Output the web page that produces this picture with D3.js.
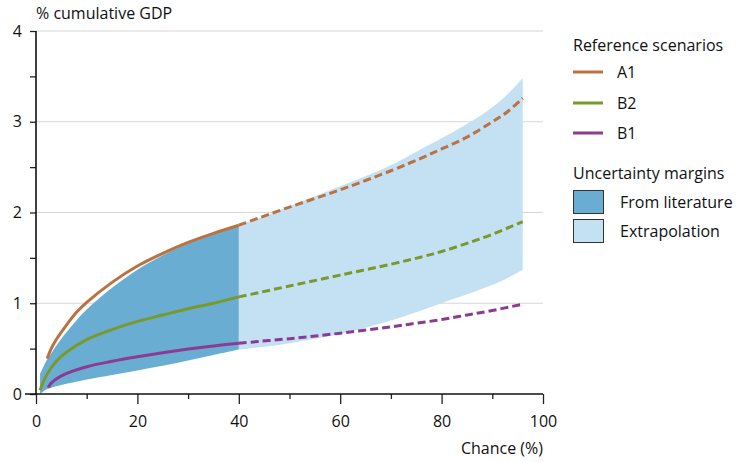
<!DOCTYPE html>
<html>
<head>
<meta charset="utf-8">
<script src="https://cdn.jsdelivr.net/npm/d3@7"></script>
<style>
	body { margin: 0; background: #fff; }
	text { font-family: "Open Sans", sans-serif; fill: #111; }
</style>
</head>
<body>
<div id="chart"></div>
<script>
// data
var a1Chance = [2.2, 3, 4, 6, 8, 10, 15, 20, 25, 30, 35, 40, 50, 60, 70, 76, 80, 85, 90, 93, 96];
var a1Value  = [0.39, 0.5, 0.6, 0.76, 0.9, 1.01, 1.23, 1.41, 1.55, 1.67, 1.77, 1.86, 2.06, 2.25, 2.46, 2.6, 2.7, 2.83, 3.0, 3.11, 3.26];
var b2Chance = [0.8, 2, 4, 6, 10, 15, 20, 25, 30, 35, 40, 50, 60, 70, 76, 80, 85, 90, 96];
var b2Value  = [0.04, 0.2, 0.36, 0.46, 0.6, 0.71, 0.8, 0.87, 0.94, 1.0, 1.07, 1.19, 1.31, 1.43, 1.51, 1.57, 1.66, 1.76, 1.9];
var b1Chance = [2.4, 3, 5, 10, 15, 20, 25, 30, 35, 40, 50, 60, 70, 75, 80, 85, 90, 96];
var b1Value  = [0.07, 0.12, 0.2, 0.3, 0.36, 0.41, 0.455, 0.495, 0.53, 0.56, 0.61, 0.67, 0.74, 0.78, 0.82, 0.87, 0.92, 0.99];

var litChance = [0.8, 2, 3, 5, 7.5, 10, 15, 20, 25, 30, 35, 40];
var litLow    = [0.0, 0.05, 0.07, 0.1, 0.13, 0.16, 0.21, 0.26, 0.31, 0.37, 0.43, 0.49];
var litHigh   = [0.22, 0.36, 0.45, 0.61, 0.78, 0.93, 1.17, 1.37, 1.53, 1.66, 1.77, 1.86];
var extChance = [40, 45, 50, 55, 60, 65, 70, 76, 82, 88, 92, 96];
var extLow    = [0.49, 0.52, 0.56, 0.61, 0.66, 0.73, 0.81, 0.92, 1.04, 1.16, 1.25, 1.37];
var extHigh   = [1.86, 1.96, 2.07, 2.18, 2.29, 2.4, 2.52, 2.7, 2.88, 3.08, 3.25, 3.48];

var yTicks = [0, 1, 2, 3, 4];
var xTicks = [0, 20, 40, 60, 80, 100];

var scenarios = [
	{name: "A1", chance: a1Chance, value: a1Value, color: "#bb7240"},
	{name: "B2", chance: b2Chance, value: b2Value, color: "#7a992c"},
	{name: "B1", chance: b1Chance, value: b1Value, color: "#8c3b92"}
];
var margins = [
	{name: "From literature", color: "#6aadd3"},
	{name: "Extrapolation", color: "#c3e1f3"}
];

var width = 744, height = 462;
var plot = {left: 36, right: 543, top: 31, bottom: 394};
var FONT = "16px";

var svg = d3.select("#chart")
	.append("svg")
	.attr("width", width)
	.attr("height", height);

var x = d3.scaleLinear().domain([0, 100]).range([plot.left, plot.right]);
var y = d3.scaleLinear().domain([0, 4]).range([plot.bottom, plot.top]);

// gridlines
svg.append("g")
	.selectAll("line")
	.data(yTicks.slice(1))
	.enter()
	.append("line")
	.attr("x1", x(0))
	.attr("x2", x(100))
	.attr("y1", d => y(d))
	.attr("y2", d => y(d))
	.attr("stroke", "#d6d6d6")
	.attr("stroke-width", 1.2);

// bands
function zip(xs, lo, hi) { return xs.map((c, i) => [c, lo[i], hi[i]]); }
var band = d3.area()
	.x(d => x(d[0]))
	.y0(d => y(d[1]))
	.y1(d => y(d[2]))
	.curve(d3.curveCatmullRom.alpha(0.5));

svg.append("path")
	.datum(zip(extChance, extLow, extHigh))
	.attr("d", band)
	.attr("fill", margins[1].color);
svg.append("path")
	.datum(zip(litChance, litLow, litHigh))
	.attr("d", band)
	.attr("fill", margins[0].color);

// scenario lines, solid up to 40 and dashed after
var line = d3.line()
	.x(d => x(d[0]))
	.y(d => y(d[1]))
	.curve(d3.curveCatmullRom.alpha(0.5));

scenarios.forEach(function(s) {
	var pts = s.chance.map((c, i) => [c, s.value[i]]);
	svg.append("path")
		.datum(pts.filter(d => d[0] <= 40))
		.attr("d", line)
		.attr("fill", "none")
		.attr("stroke", s.color)
		.attr("stroke-width", 3);
	svg.append("path")
		.datum(pts.filter(d => d[0] >= 40))
		.attr("d", line)
		.attr("fill", "none")
		.attr("stroke", s.color)
		.attr("stroke-width", 3)
		.attr("stroke-dasharray", "8,4");
});

// y axis
var yAxis = svg.append("g")
	.attr("transform", "translate(" + plot.left + ",0)")
	.call(d3.axisLeft(y)
		.tickValues(d3.range(0, 4.01, 0.5))
		.tickSize(6)
		.tickPadding(8)
		.tickFormat(d => d % 1 === 0 ? d : ""));
yAxis.select(".domain").remove();
yAxis.selectAll("line").attr("stroke", "#222").attr("stroke-width", 1.3);
yAxis.selectAll("text").style("font-size", FONT).attr("font-family", null);

// x axis
var xAxis = svg.append("g")
	.attr("transform", "translate(0," + plot.bottom + ")")
	.call(d3.axisBottom(x)
		.tickValues(d3.range(0, 101, 10))
		.tickSize(5)
		.tickPadding(17)
		.tickFormat(d => d % 20 === 0 ? d : ""));
xAxis.select(".domain").remove();
xAxis.selectAll(".tick line")
	.attr("y2", d => d % 20 === 0 ? 10 : 5)
	.attr("stroke", "#222")
	.attr("stroke-width", 1.3);
xAxis.selectAll("text").style("font-size", FONT).attr("font-family", null);

// axis lines
svg.append("line")
	.attr("x1", plot.left).attr("x2", plot.left)
	.attr("y1", plot.top).attr("y2", plot.bottom)
	.attr("stroke", "#111").attr("stroke-width", 1.6);
svg.append("line")
	.attr("x1", plot.left - 11).attr("x2", plot.right)
	.attr("y1", plot.bottom).attr("y2", plot.bottom)
	.attr("stroke", "#111").attr("stroke-width", 1.6);

// axis titles
svg.append("text")
	.attr("x", plot.left)
	.attr("y", 19)
	.style("font-size", FONT)
	.text("% cumulative GDP");
svg.append("text")
	.attr("x", plot.right)
	.attr("y", 454)
	.attr("text-anchor", "end")
	.style("font-size", FONT)
	.text("Chance (%)");

// legend
var legend = svg.append("g").attr("transform", "translate(573,0)");
legend.append("text")
	.attr("x", 0).attr("y", 51)
	.style("font-size", FONT)
	.text("Reference scenarios");
var legY = [72, 103, 133];
scenarios.forEach(function(s, i) {
	legend.append("line")
		.attr("x1", 0).attr("x2", 30)
		.attr("y1", legY[i]).attr("y2", legY[i])
		.attr("stroke", s.color)
		.attr("stroke-width", 3);
	legend.append("text")
		.attr("x", 44).attr("y", legY[i] + 6)
		.style("font-size", FONT)
		.text(s.name);
});
legend.append("text")
	.attr("x", 0).attr("y", 179)
	.style("font-size", FONT)
	.text("Uncertainty margins");
var boxY = [190, 219];
margins.forEach(function(m, i) {
	legend.append("rect")
		.attr("x", 0.5).attr("y", boxY[i] + 0.5)
		.attr("width", 30).attr("height", 23)
		.attr("fill", m.color)
		.attr("stroke", "#333")
		.attr("stroke-width", 1);
	legend.append("text")
		.attr("x", 47).attr("y", boxY[i] + 18)
		.style("font-size", FONT)
		.text(m.name);
});
</script>
</body>
</html>
